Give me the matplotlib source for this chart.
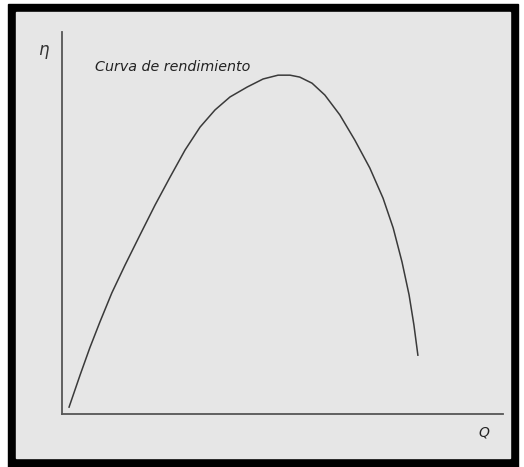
import matplotlib
matplotlib.use("Agg")
import matplotlib.pyplot as plt
from matplotlib.patches import Rectangle

# caudal Q (0-100) y rendimiento eta (0-100)
q = [1.6, 4.1, 6.3, 8.6, 11.3, 14.3, 17.7, 21.1, 24.5, 27.9, 31.3, 34.7,
     38.1, 42.0, 45.6, 49.0, 51.7, 53.9, 56.7, 59.6, 63.0, 66.4, 69.8,
     72.8, 75.1, 77.1, 78.7, 79.8, 80.7]
eta = [1.8, 10.2, 17.3, 24.1, 31.7, 39.0, 46.9, 54.7, 62.0, 69.1, 75.1, 79.6,
       83.0, 85.6, 87.7, 88.7, 88.7, 88.2, 86.6, 83.5, 78.3, 71.7, 64.4,
       56.5, 48.7, 39.8, 31.2, 23.3, 15.4]

W, H = 524, 467
fig = plt.figure(figsize=(W / 100, H / 100), dpi=100, facecolor='white')

# marco negro y fondo gris (detras de los ejes)
fig.patches.append(Rectangle((8 / W, 0), 510 / W, 1 - 4 / H,
                             transform=fig.transFigure, color='black', zorder=-10))
fig.patches.append(Rectangle((16 / W, 1 - 458 / H), 494 / W, 446 / H,
                             transform=fig.transFigure, color='#e6e6e6', zorder=-9))

ax = fig.add_axes([62 / W, 1 - 414 / H, 441 / W, 382 / H])
ax.set_facecolor('none')
ax.plot(q, eta, color='#3a3a3a', lw=1.1)
ax.set_xlim(0, 100)
ax.set_ylim(0, 100)
ax.set_xticks([])
ax.set_yticks([])
for s in ['top', 'right']:
    ax.spines[s].set_visible(False)
for s in ['left', 'bottom']:
    ax.spines[s].set_color('#555555')
    ax.spines[s].set_linewidth(1.3)

fig.text(43 / W, 1 - 50 / H, 'η', fontsize=12, style='italic',
         color='#333333', ha='center', va='center')
fig.text(95 / W, 1 - 67 / H, 'Curva de rendimiento', fontsize=10.3,
         style='italic', color='#222222', ha='left', va='center')
fig.text(484 / W, 1 - 433 / H, 'Q', fontsize=10, style='italic',
         color='#222222', ha='center', va='center')

fig.savefig('out.png', dpi=100, facecolor='white')
